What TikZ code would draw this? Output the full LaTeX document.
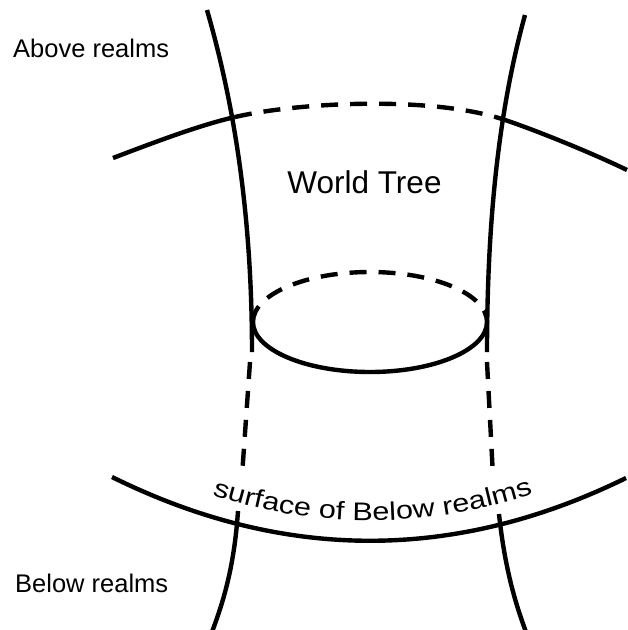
\documentclass[tikz,border=0pt]{standalone}
\usepackage{fontspec}
\setmainfont{Liberation Sans}
\newfontfamily\arcfont[FakeStretch=1.2]{Liberation Sans}
\usepackage{tikz}
\usetikzlibrary{decorations.text}

\tikzset{
  trunk/.style={line width=4.4pt},
  hidden/.style={trunk, dash pattern=on 17pt off 12pt},
  realm/.style={anchor=base west, inner sep=0pt, font=\fontsize{25.5}{30}\selectfont}
}

\begin{document}
\begin{tikzpicture}[x=1pt,y=-1pt]
	\useasboundingbox (0,0) rectangle (628,630);
	% labels
	\node[realm] (abovelbl) at (13,57) {Above realms};
	\node[realm] (belowlbl) at (15,592) {Below realms};
	\node[anchor=base, inner sep=0pt, font=\fontsize{31.5}{36}\selectfont] (treelbl) at (364.5,193) {World Tree};
	% upper realm surface
	\draw[trunk] (113,158) .. controls (155,142) and (200,125) .. (235,117);
	\draw[hidden] (235,117) .. controls (300,102) and (430,96) .. (502,119);
	\draw[trunk] (502,119) .. controls (530,128) and (590,152) .. (627,170);
	% trunk sides
	\draw[trunk] (207,10) .. controls (230,90) and (252,200) .. (252,352);
	\draw[trunk] (525,15) .. controls (503,95) and (487,200) .. (487,352);
	% cut through the trunk
	\draw[hidden] (253,322) arc[start angle=180, end angle=360, x radius=117, y radius=50];
	\draw[trunk] (253,322) arc[start angle=180, end angle=0, x radius=117, y radius=50];
	\draw[hidden] (250,362) -- (242,476);
	\draw[hidden] (487,362) -- (493,476);
	% lower realm surface
	\draw[trunk] (112,477) .. controls (283.3,561.7) and (454.7,562) .. (626,478);
	\path[decorate, decoration={text along path, text align=center,
	    text={|\arcfont\fontsize{25.5}{30}\selectfont|surface of Below realms}}]
	  (205,493) .. controls (316.7,530.3) and (428.3,529.8) .. (540,491.5);
	\draw[trunk] (238,511) .. controls (234,570) and (222,605) .. (212,632);
	\draw[trunk] (499,514) .. controls (505,570) and (516,605) .. (526,632);
\end{tikzpicture}
\end{document}
